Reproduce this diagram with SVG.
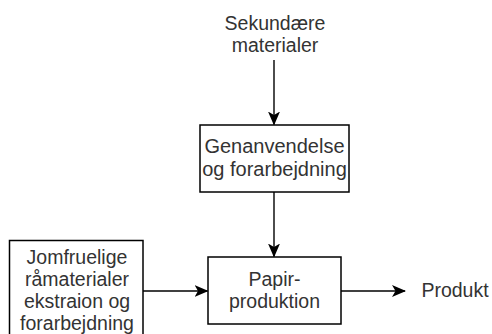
<svg xmlns="http://www.w3.org/2000/svg" width="492" height="334" viewBox="0 0 492 334">
<defs>
<style>
.box{fill:#ffffff;stroke:#000000;stroke-width:1.5}
.edge{fill:none;stroke:#000000;stroke-width:1.4}
.lbl{font-family:"Liberation Sans",Arial,sans-serif;font-size:19.5px;fill:#333333;text-anchor:middle}
</style>
<marker id="arr" viewBox="0 0 14 12" refX="13" refY="6" markerWidth="14" markerHeight="12" markerUnits="userSpaceOnUse" orient="auto">
<path d="M0,0 L14,6 L0,12 L3.5,6 Z" fill="#000000"/>
</marker>
</defs>
<rect width="492" height="334" fill="#ffffff"/>
<g id="connectors">
<line class="edge" x1="274" y1="60" x2="274" y2="124.5" marker-end="url(#arr)"/>
<line class="edge" x1="274" y1="192" x2="274" y2="256.5" marker-end="url(#arr)"/>
<line class="edge" x1="143" y1="291" x2="207.5" y2="291" marker-end="url(#arr)"/>
<line class="edge" x1="341" y1="291" x2="405" y2="291" marker-end="url(#arr)"/>
</g>
<g id="sekundaere">
<text class="lbl" x="275" y="30">Sekundære</text>
<text class="lbl" x="275" y="52">materialer</text>
</g>
<g id="genanvendelse">
<rect class="box" x="200" y="125" width="149" height="67"/>
<text class="lbl" x="274.5" y="153" style="font-size:20px">Genanvendelse</text>
<text class="lbl" x="274.5" y="175.5" style="font-size:20px">og forarbejdning</text>
</g>
<g id="jomfruelige">
<rect class="box" x="9.5" y="240.5" width="133.5" height="110"/>
<text class="lbl" x="77" y="264">Jomfruelige</text>
<text class="lbl" x="77" y="286">råmaterialer</text>
<text class="lbl" x="77" y="307.5">ekstraion og</text>
<text class="lbl" x="77" y="329.5">forarbejdning</text>
</g>
<g id="papirproduktion">
<rect class="box" x="208" y="257" width="133" height="67"/>
<text class="lbl" x="274.5" y="285.5">Papir-</text>
<text class="lbl" x="274.5" y="307.5">produktion</text>
</g>
<g id="produkt">
<text class="lbl" x="455" y="297">Produkt</text>
</g>
</svg>
